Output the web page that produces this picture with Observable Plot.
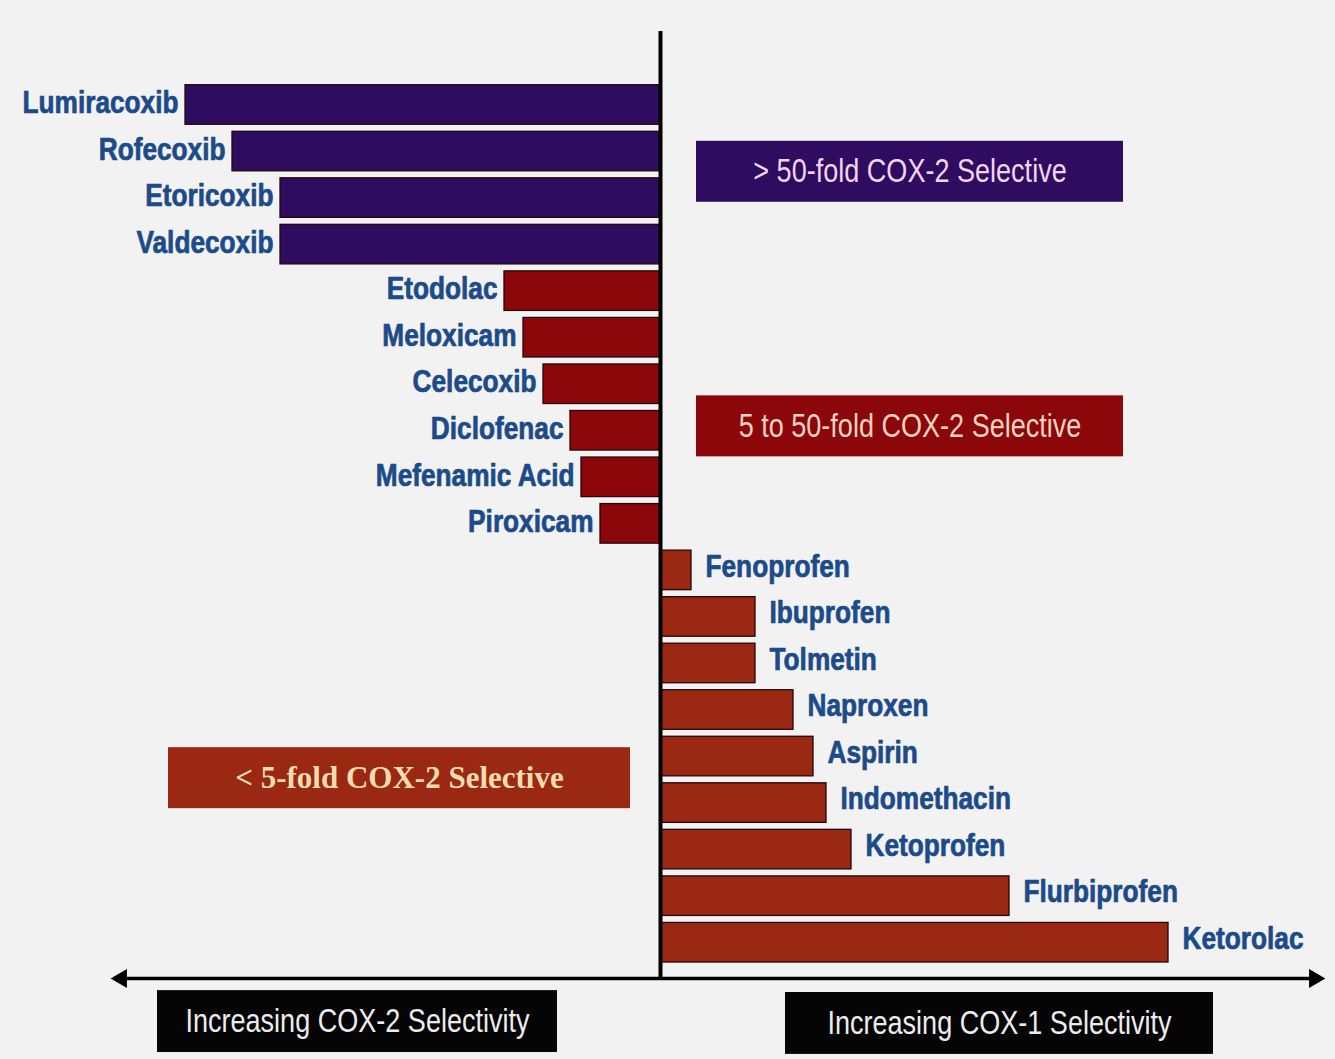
<!DOCTYPE html>
<html>
<head>
<meta charset="utf-8">
<script src="https://cdn.jsdelivr.net/npm/d3@7"></script>
<script src="https://cdn.jsdelivr.net/npm/@observablehq/plot@0.6"></script>
<style>
  html, body { margin: 0; padding: 0; background: #f2f2f2; }
  #chart svg { display: block; }
</style>
</head>
<body>
<div id="chart"></div>
<script>
// ---- data ----
const drugs = ["Lumiracoxib","Rofecoxib","Etoricoxib","Valdecoxib","Etodolac","Meloxicam","Celecoxib","Diclofenac","Mefenamic Acid","Piroxicam","Fenoprofen","Ibuprofen","Tolmetin","Naproxen","Aspirin","Indomethacin","Ketoprofen","Flurbiprofen","Ketorolac"];
// relative selectivity (negative = COX-2 side, positive = COX-1 side)
const selectivity = [-9.5,-8.56,-7.6,-7.6,-3.12,-2.74,-2.34,-1.8,-1.58,-1.2,0.62,1.9,1.9,2.66,3.06,3.32,3.82,6.98,10.16];
const groupOf = [">50",">50",">50",">50","5-50","5-50","5-50","5-50","5-50","5-50","<5","<5","<5","<5","<5","<5","<5","<5","<5"];
const groupKeys = [">50","5-50","<5"];
const groupLabels = ["> 50-fold COX-2 Selective","5 to 50-fold COX-2 Selective","< 5-fold COX-2 Selective"];
const axisLabels = ["Increasing COX-2 Selectivity","Increasing COX-1 Selectivity"];

// ---- build table ----
const rows = drugs.map((drug, i) => ({drug, value: selectivity[i], group: groupOf[i], i}));

// ---- layout (code, not data) ----
const HALF = 0.425;
const AXIS_Y = 18.77, TOP_Y = -1.58;
const legendBoxes = [
  {label: groupLabels[0], key: groupKeys[0], x1: 0.72, x2: 9.26, y1: 0.78, y2: 2.09},
  {label: groupLabels[1], key: groupKeys[1], x1: 0.72, x2: 9.26, y1: 6.25, y2: 7.56},
  {label: groupLabels[2], key: groupKeys[2], x1: -9.84, x2: -0.6, y1: 13.81, y2: 15.12}
];
const axisBoxes = [
  {label: axisLabels[0], x1: -10.06, x2: -2.06, y1: 19.03, y2: 20.36},
  {label: axisLabels[1], x1: 2.5, x2: 11.06, y1: 19.07, y2: 20.4}
];
const mid = (b) => ({...b, cx: (b.x1 + b.x2) / 2, cy: (b.y1 + b.y2) / 2});

const labelColor = "#1b4b8b";
const labelStroke = "#143c72";

const chart = Plot.plot({
  width: 1335,
  height: 1059,
  marginLeft: 110,
  marginRight: 10,
  marginTop: 0,
  marginBottom: 0,
  style: {background: "#f2f2f2", overflow: "visible"},
  x: {domain: [-11, 13.3], axis: null},
  y: {domain: [0, 18], range: [104.5, 942.2], axis: null},
  color: {domain: groupKeys, range: ["#2e0c5f", "#8b0709", "#9a2812"]},
  marks: [
    // bars
    Plot.rect(rows, {x1: 0, x2: "value", y1: d => d.i - HALF, y2: d => d.i + HALF, fill: "group", stroke: "#25060a", strokeWidth: 1.3}),
    // left labels
    Plot.text(rows.filter(d => d.value < 0), {x: "value", y: "i", text: "drug", textAnchor: "end", dx: -7, dy: -2, fill: labelColor, stroke: labelStroke, strokeWidth: 0.7, fontSize: 32, fontWeight: "bold", fontFamily: "Liberation Sans"}),
    // right labels
    Plot.text(rows.filter(d => d.value > 0), {x: "value", y: "i", text: "drug", textAnchor: "start", dx: 14, dy: -4, fill: labelColor, stroke: labelStroke, strokeWidth: 0.7, fontSize: 32, fontWeight: "bold", fontFamily: "Liberation Sans"}),
    // legend boxes
    Plot.rect(legendBoxes, {x1: "x1", x2: "x2", y1: "y1", y2: "y2", fill: "key"}),
    Plot.text(legendBoxes.slice(0, 1).map(mid), {x: "cx", y: "cy", text: "label", fill: "#f2d4ee", fontSize: 33, fontFamily: "Liberation Sans"}),
    Plot.text(legendBoxes.slice(1, 2).map(mid), {x: "cx", y: "cy", text: "label", fill: "#f8d2c2", fontSize: 33, fontFamily: "Liberation Sans"}),
    Plot.text(legendBoxes.slice(2, 3).map(mid), {x: "cx", y: "cy", text: "label", fill: "#f4dcb0", fontSize: 31, fontWeight: "bold", fontFamily: "Liberation Serif"}),
    // axis direction boxes
    Plot.rect(axisBoxes, {x1: "x1", x2: "x2", y1: "y1", y2: "y2", fill: "#050505"}),
    Plot.text(axisBoxes.map(mid), {x: "cx", y: "cy", text: "label", fill: "#ececec", fontSize: 33, fontFamily: "Liberation Sans"}),
    // center line and horizontal double arrow
    Plot.ruleX([0], {y1: TOP_Y, y2: AXIS_Y, stroke: "#000", strokeWidth: 4}),
    Plot.ruleY([AXIS_Y], {x1: -10.75, x2: 13.05, stroke: "#000", strokeWidth: 3.5}),
    Plot.dot([{x: -10.78, y: AXIS_Y}], {x: "x", y: "y", symbol: "triangle", r: 7, fill: "#000", stroke: null, rotate: -90}),
    Plot.dot([{x: 13.08, y: AXIS_Y}], {x: "x", y: "y", symbol: "triangle", r: 7, fill: "#000", stroke: null, rotate: 90})
  ]
});

// condense sans-serif text horizontally (reference uses a narrow face)
chart.querySelectorAll('g[font-family="Liberation Sans"] text').forEach(t => {
  const tr = t.getAttribute("transform");
  if (tr) t.setAttribute("transform", tr + " scale(0.82,1)");
});

document.getElementById("chart").appendChild(chart);
</script>
</body>
</html>
